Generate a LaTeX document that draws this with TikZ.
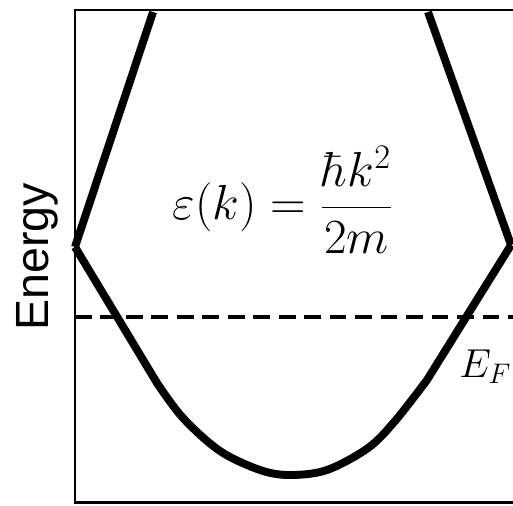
\documentclass[tikz,border=0pt]{standalone}
\usepackage{fix-cm}
\usepackage{fontspec}
\setsansfont{Liberation Sans}
\usetikzlibrary{positioning,calc}

\begin{document}
\begin{tikzpicture}[x=0.02cm,y=0.02cm,
        frame/.style={line width=1.7pt},
        band/.style={line width=4.5pt,line join=round},
        fermi/.style={line width=2pt,dash pattern=on 9.5pt off 5pt},
        lbl/.style={inner sep=0pt}]
  \useasboundingbox (0,0) rectangle (513,505);
  \clip (0,0) rectangle (513,505);
  % axes box
  \draw[frame] (75,3) rectangle (518,495);
  % band points
  \coordinate (ltop) at (153,493);
  \coordinate (lkink) at (75,258);
  \coordinate (rtop) at (428,493);
  \coordinate (rkink) at (511,260);
  % Fermi level
  \coordinate (fl) at (75,188);
  \coordinate (fr) at (515,188);
  \draw[fermi] (fl) -- (fr);
  % dispersion
  \draw[band] (ltop) -- (lkink);
  \draw[band] (rtop) -- (rkink);
  \draw[band] (lkink) -- (157,122)
    plot[smooth,tension=0.55] coordinates {(157,122) (183,87) (220,54)
      (260,35) (290,30) (327,35) (368,57) (395,84) (427,125)}
    -- (rkink);
  % labels
  \node[lbl,rotate=90,anchor=base] (energy) at (48,248)
    {\sffamily\fontsize{26.5}{30}\selectfont Energy};
  \node[lbl] (disp) at (283,305)
    {\fontsize{28}{32}\selectfont $\displaystyle\varepsilon(k)=\frac{\hbar k^2}{2m}$};
  \node[lbl,anchor=base west] (ef) at (459,128)
    {\fontsize{23}{28}\selectfont $E_F$};
\end{tikzpicture}
\end{document}
